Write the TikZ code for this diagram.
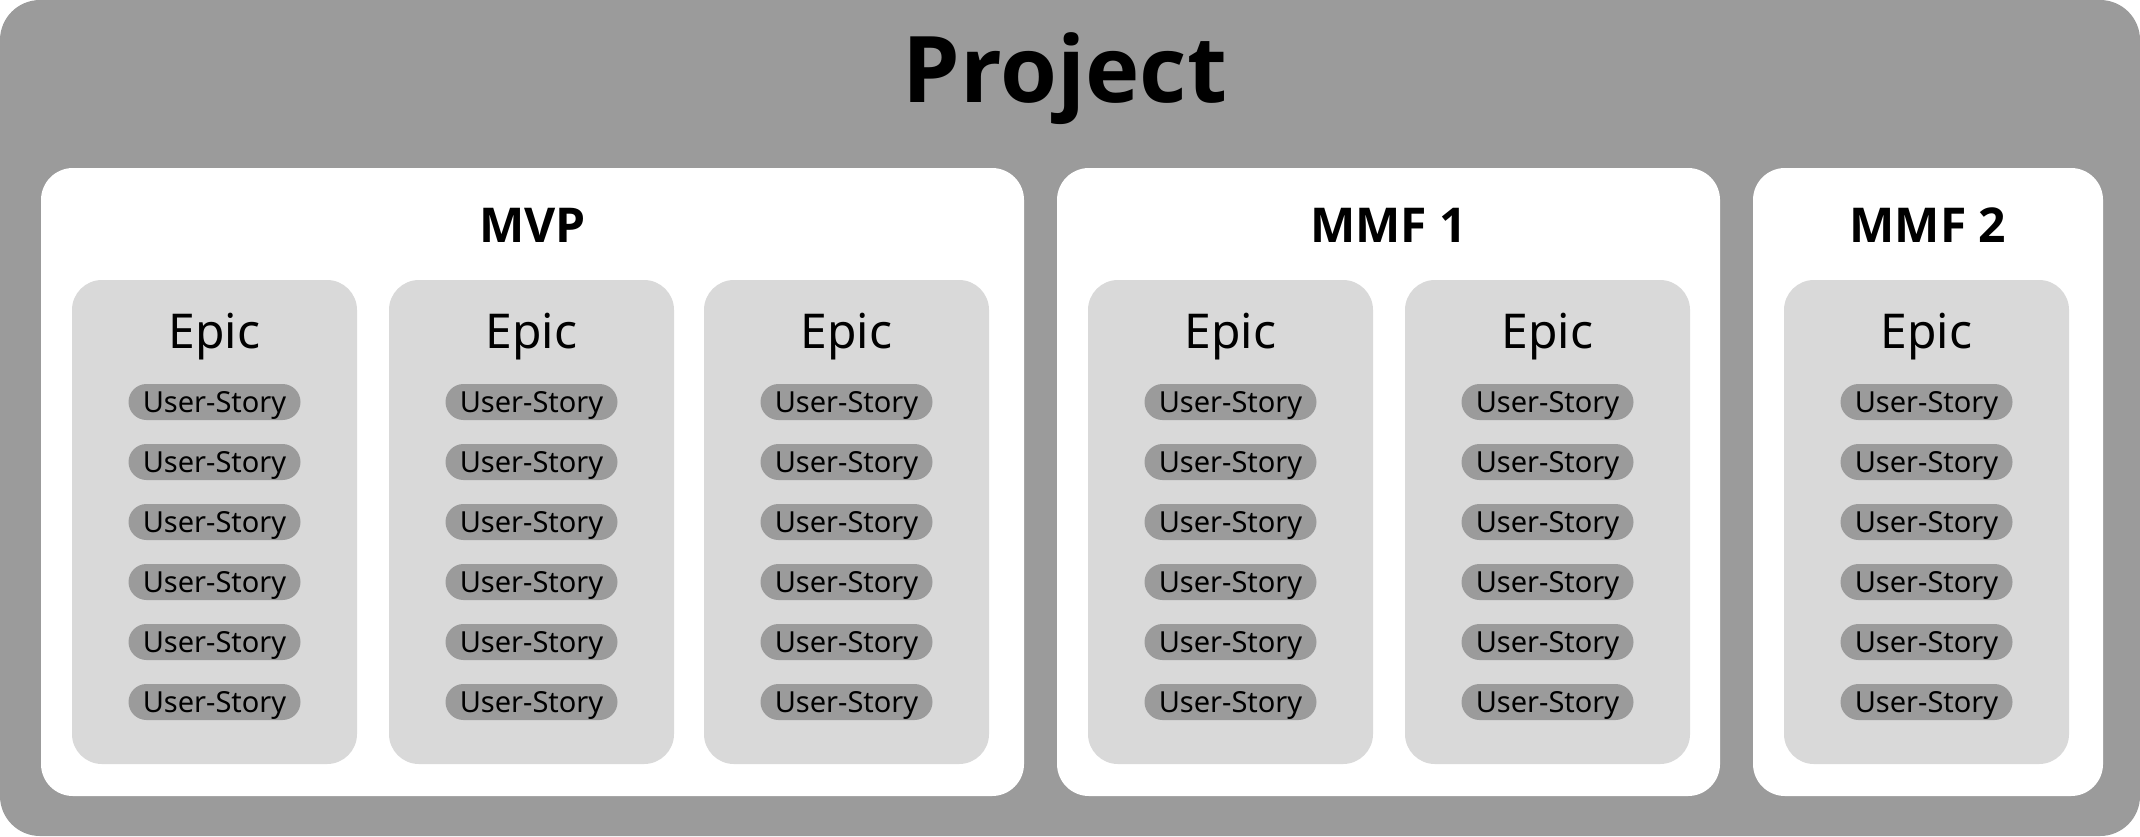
\documentclass[tikz,border=0pt]{standalone}
\usepackage{fontspec}
\setmainfont{Noto Sans}
\newfontfamily\headfont{Open Sans}
\definecolor{projgray}{HTML}{9B9B9B}
\definecolor{epicgray}{HTML}{D9D9D9}
\tikzset{
  stage/.style={fill=white, rounded corners=32pt},
  epicbox/.style={fill=epicgray, rounded corners=30pt},
  bigtitle/.style={anchor=base, font=\headfont\bfseries\fontsize{92}{92}\selectfont},
  stagetitle/.style={anchor=base, font=\headfont\bfseries\fontsize{48}{48}\selectfont},
  epictitle/.style={anchor=base, font=\fontsize{48}{48}\selectfont},
  story/.style={fill=projgray, rounded corners=18pt, minimum width=172pt, minimum height=36pt,
    inner sep=0pt, text height=21pt, text depth=0pt, font=\fontsize{29}{29}\selectfont}
}
\begin{document}
\begin{tikzpicture}[x=1pt, y=-1pt]
	\useasboundingbox (0,0) rectangle (2140,836);
	\fill [projgray, rounded corners=40pt](0,0) rectangle (2140,836);
	\node[bigtitle] (project) at (1065,102) {Project};

	% stages
	\fill [stage](41,168) rectangle (1024,796);
	\fill [stage](1057,168) rectangle (1720,796);
	\fill [stage](1753,168) rectangle (2103,796);
	\node[stagetitle] (mvp) at (532.5,242) {MVP};
	\node[stagetitle] (mmf1) at (1388.5,242) {MMF 1};
	\node[stagetitle] (mmf2) at (1928,242) {MMF 2};

	% epics with their stories
	\foreach \ex/\name in {72/a, 389/b, 704/c, 1088/d, 1405/e, 1784/f}{
		\fill [epicbox](\ex,280) rectangle ++(285,484);
		\node[epictitle] (epic-\name) at ({\ex+142.5},348) {Epic};
		\foreach \k in {1,...,6}
			\node[story] (story-\name-\k) at ({\ex+142.5},{402+60*(\k-1)}) {User-Story};
	}
\end{tikzpicture}
\end{document}
